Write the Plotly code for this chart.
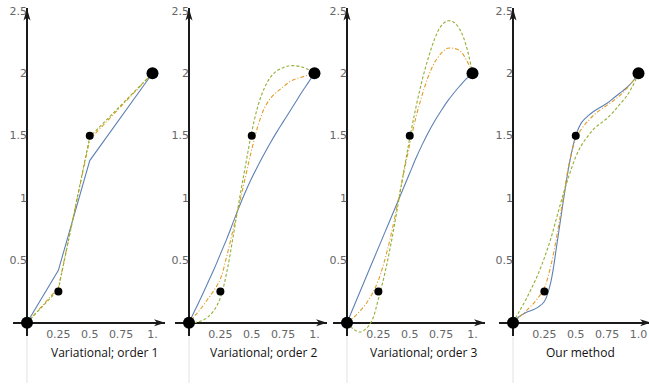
import plotly.graph_objects as go

# ---------------- data ----------------
DATA_X = [0, 0.25, 0.5, 1.0]
DATA_Y = [0, 0.25, 1.5, 2.0]
END_IDX = [0, 3]
MID_IDX = [1, 2]

# panel 1 : variational order 1 (piecewise linear)
P1_X = [0, 0.25, 0.5, 1.0]
P1_BLUE = [0, 0.42, 1.30, 2.0]
P1_ORANGE = [0, 0.28, 1.47, 2.0]
P1_GREEN = [0, 0.265, 1.49, 2.0]

# common sampling for smooth panels
XS = [0, 0.05, 0.1, 0.15, 0.2, 0.25, 0.3, 0.35, 0.4, 0.45, 0.5,
      0.55, 0.6, 0.65, 0.7, 0.75, 0.8, 0.85, 0.9, 0.95, 1.0]

# panel 2 : variational order 2
P2_BLUE = [0, 0.105, 0.21, 0.32, 0.43, 0.55, 0.67, 0.80, 0.93, 1.05, 1.16,
           1.26, 1.355, 1.445, 1.53, 1.61, 1.69, 1.77, 1.85, 1.925, 2.0]
P2_ORANGE = [0, 0.06, 0.12, 0.19, 0.26, 0.35, 0.53, 0.74, 0.95, 1.17, 1.39,
             1.58, 1.72, 1.80, 1.85, 1.89, 1.93, 1.955, 1.97, 1.985, 2.0]
P2_GREEN = [0, 0.002, 0.015, 0.045, 0.10, 0.20, 0.40, 0.68, 0.98, 1.26, 1.53,
            1.74, 1.88, 1.97, 2.02, 2.045, 2.06, 2.06, 2.05, 2.03, 2.0]

# panel 3 : variational order 3
P3_BLUE = [0, 0.12, 0.24, 0.36, 0.48, 0.60, 0.72, 0.84, 0.96, 1.08, 1.20,
           1.32, 1.43, 1.53, 1.62, 1.70, 1.775, 1.84, 1.90, 1.955, 2.0]
P3_ORANGE = [0, 0.04, 0.09, 0.15, 0.23, 0.34, 0.50, 0.70, 0.94, 1.19, 1.43,
             1.65, 1.83, 1.98, 2.09, 2.16, 2.20, 2.20, 2.18, 2.11, 2.0]
P3_GREEN = [0, -0.05, -0.075, -0.05, 0.02, 0.19, 0.39, 0.63, 0.91, 1.20, 1.48,
            1.73, 1.95, 2.13, 2.28, 2.38, 2.42, 2.41, 2.35, 2.22, 2.0]

# panel 4 : our method
P4_BLUE = [0, 0.05, 0.08, 0.10, 0.125, 0.17, 0.32, 0.63, 0.97, 1.28, 1.50,
           1.61, 1.66, 1.70, 1.73, 1.76, 1.80, 1.84, 1.88, 1.93, 2.0]
P4_ORANGE = [0, 0.045, 0.09, 0.14, 0.20, 0.28, 0.45, 0.70, 1.0, 1.29, 1.47,
             1.56, 1.62, 1.67, 1.71, 1.745, 1.78, 1.82, 1.87, 1.93, 2.0]
P4_GREEN = [0, 0.09, 0.18, 0.28, 0.39, 0.52, 0.67, 0.85, 1.03, 1.19, 1.33,
            1.43, 1.50, 1.56, 1.60, 1.64, 1.69, 1.75, 1.81, 1.89, 2.0]

TITLES = ["Variational; order 1", "Variational; order 2",
          "Variational; order 3", "Our method"]
Y_TICKS = [0.5, 1, 1.5, 2, 2.5]
Y_TICKTEXT = ["0.5", "1", "1.5", "2", "2.5"]
X_TICKS = [0.25, 0.5, 0.75, 1.0]
X_TICKTEXT = [["0.25", "0.5", "0.75", "1."]] * 3 + [["0.25", "0.5", "0.75", "1.0"]]

PANELS = [
    (P1_X, P1_BLUE, P1_ORANGE, P1_GREEN, "linear"),
    (XS, P2_BLUE, P2_ORANGE, P2_GREEN, "spline"),
    (XS, P3_BLUE, P3_ORANGE, P3_GREEN, "spline"),
    (XS, P4_BLUE, P4_ORANGE, P4_GREEN, "spline"),
]

# ---------------- layout geometry ----------------
W, H = 649, 389
ORIGIN_PX = [27, 189, 347, 513]
SX = 125.5
SY = 126.0
Y0_PX = 322.0
XMIN, XMAX = -0.11, 1.10
YMIN, YMAX = -0.11, 2.52
TITLE_X = [0.62, 0.60, 0.61, 0.54]
TITLE_Y_PX = 352

BLUE = "#5E81B5"
ORANGE = "#E19C24"
GREEN = "#8FB032"
AXIS_COL = "#1a1a1a"
TICK_COL = "#666666"

fig = go.Figure()
layout = dict(width=W, height=H, margin=dict(l=0, r=0, t=0, b=0),
              paper_bgcolor="white", plot_bgcolor="white", showlegend=False)
shapes = []
annotations = []

ydom = [1 - (Y0_PX - YMIN * SY) / H, 1 - (Y0_PX - YMAX * SY) / H]

for i, (px, blue, orange, green, shape) in enumerate(PANELS):
    n = "" if i == 0 else str(i + 1)
    xa, ya = "x" + n, "y" + n
    ox = ORIGIN_PX[i]
    left = ox + XMIN * SX
    right = min(ox + XMAX * SX, W)
    xr = [XMIN, XMIN + (right - left) / SX]
    common = dict(showgrid=False, showline=False, ticks="", zeroline=True,
                  zerolinecolor=AXIS_COL, zerolinewidth=2,
                  tickfont=dict(family="DejaVu Sans", size=11, color=TICK_COL))
    layout["xaxis" + n] = dict(common, domain=[left / W, right / W], range=xr,
                               anchor="free", position=1 - Y0_PX / H,
                               ticklabelstandoff=3,
                               tickvals=X_TICKS, ticktext=X_TICKTEXT[i])
    layout["yaxis" + n] = dict(common, domain=ydom, range=[YMIN, YMAX],
                               anchor="free", position=ox / W,
                               tickvals=Y_TICKS, ticktext=Y_TICKTEXT)

    fig.add_trace(go.Scatter(x=px, y=blue, mode="lines", xaxis=xa, yaxis=ya,
                             line=dict(color=BLUE, width=1.1, shape=shape)))
    fig.add_trace(go.Scatter(x=px, y=orange, mode="lines", xaxis=xa, yaxis=ya,
                             line=dict(color=ORANGE, width=1.1, shape=shape,
                                       dash="4px,2px,1px,2px")))
    fig.add_trace(go.Scatter(x=px, y=green, mode="lines", xaxis=xa, yaxis=ya,
                             line=dict(color=GREEN, width=1.1, shape=shape,
                                       dash="3px,2px")))
    fig.add_trace(go.Scatter(x=[DATA_X[k] for k in MID_IDX],
                             y=[DATA_Y[k] for k in MID_IDX], mode="markers",
                             xaxis=xa, yaxis=ya, cliponaxis=False,
                             marker=dict(color="black", size=8)))
    fig.add_trace(go.Scatter(x=[DATA_X[k] for k in END_IDX],
                             y=[DATA_Y[k] for k in END_IDX], mode="markers",
                             xaxis=xa, yaxis=ya, cliponaxis=False,
                             marker=dict(color="black", size=12)))

    # arrowheads
    shapes.append(dict(type="path", xref=xa, yref=ya, xsizemode="pixel",
                       ysizemode="pixel", xanchor=0, yanchor=YMAX,
                       path="M 0 0 L -3.5 -12 L 0 -9 L 3.5 -12 Z",
                       fillcolor=AXIS_COL, line=dict(width=0)))
    shapes.append(dict(type="path", xref=xa, yref=ya, xsizemode="pixel",
                       ysizemode="pixel", xanchor=XMAX, yanchor=0,
                       path="M 0 0 L -11 3.5 L -8 0 L -11 -3.5 Z",
                       fillcolor=AXIS_COL, line=dict(width=0)))
    # faint line below axis
    shapes.append(dict(type="line", xref=xa, yref="paper", x0=0, x1=0,
                       y0=1 - 336 / H, y1=1 - 383 / H,
                       line=dict(color="#e2e2e2", width=1)))
    annotations.append(dict(text=TITLES[i], xref=xa, yref="paper",
                            x=TITLE_X[i], y=1 - TITLE_Y_PX / H,
                            showarrow=False, xanchor="center", yanchor="middle",
                            font=dict(family="Open Sans", size=12, color="#111")))

layout["shapes"] = shapes
layout["annotations"] = annotations
fig.update_layout(**layout)
fig.write_html("out.html")
